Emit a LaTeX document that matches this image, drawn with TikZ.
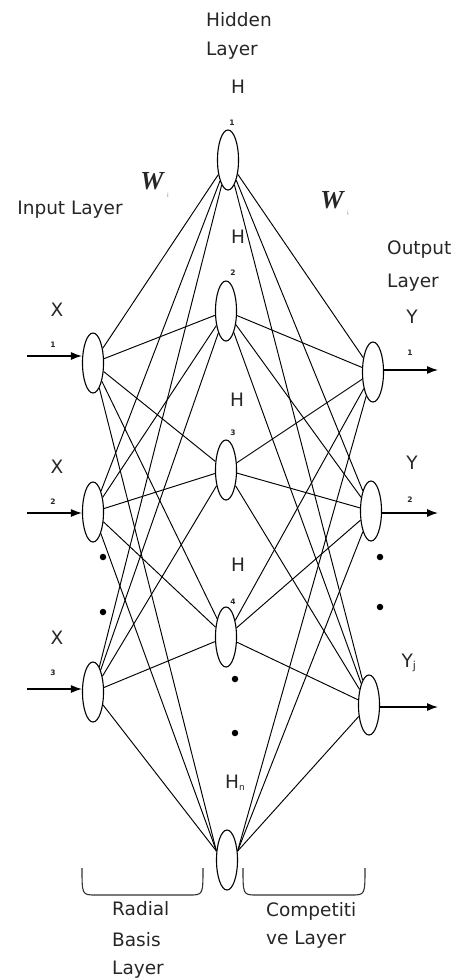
\documentclass[tikz,border=0pt]{standalone}
\usepackage{fontspec}
\setmainfont{DejaVu Sans}
\newfontfamily\wfont{Liberation Serif}
\usetikzlibrary{shapes.geometric,arrows.meta}
\definecolor{txt}{HTML}{262626}
\tikzset{
  neuron/.style={ellipse,draw=black,line width=1.1pt,minimum width=21pt,minimum height=60pt,inner sep=0pt,fill=white},
  link/.style={draw=black,line width=0.95pt},
  lbl/.style={text=txt,font=\fontsize{18.5}{20}\selectfont,inner sep=0pt},
  sub/.style={text=txt,font=\fontsize{7.5}{8}\selectfont\bfseries,inner sep=0pt},
  wlbl/.style={text=black!85,font=\wfont\bfseries\itshape\fontsize{26}{28}\selectfont,inner sep=0pt},
  dotn/.style={circle,fill=black,inner sep=0pt,minimum size=6.5pt},
  io/.style={draw=black,line width=1.2pt,-{Latex[length=11pt,width=8pt]}},
  brace/.style={draw=black!80,line width=1.1pt},
}
\begin{document}
\begin{tikzpicture}[x=1pt,y=-1pt]
\useasboundingbox (0,0) rectangle (458,980);
% nodes
\node[neuron] (X1) at (93,363) {};
\node[neuron] (X2) at (93,512) {};
\node[neuron] (X3) at (93,692) {};
\node[neuron] (H1) at (228,160) {};
\node[neuron] (H2) at (226,311) {};
\node[neuron] (H3) at (226,470) {};
\node[neuron] (H4) at (226,637) {};
\node[neuron] (Hn) at (227,860) {};
\node[neuron] (Y1) at (373,372) {};
\node[neuron] (Y2) at (371,511) {};
\node[neuron] (Yj) at (369,705) {};
% links
\foreach \x in {X1,X2,X3}{
  \foreach \h in {H1,H2,H3,H4}{
    \path[link] (\x) -- (\h);
  }
  \path[link] (\x) -- (Hn.140);
}
\foreach \y in {Y1,Y2,Yj}{
  \foreach \h in {H1,H2,H3,H4}{
    \path[link] (\h) -- (\y);
  }
  \path[link] (Hn.40) -- (\y);
}
% input arrows
\coordinate (a1) at (27,356);
\coordinate (a2) at (27,513);
\coordinate (a3) at (27,689);
\draw[io] (a1) -- (a1 -| X1.west);
\draw[io] (a2) -- (a2 -| X2.west);
\draw[io] (a3) -- (a3 -| X3.west);
% output arrows
\coordinate (b1) at (438,370);
\coordinate (b2) at (438,513);
\coordinate (b3) at (438,707);
\draw[io] (Y1.east |- b1) -- (b1);
\draw[io] (Y2.east |- b2) -- (b2);
\draw[io] (Yj.east |- b3) -- (b3);
% labels
\node[lbl] (tH1) at (239,20) {Hidden};
\node[lbl,anchor=west] (tH2) at (tH1.west |- 0,51) {Layer};
\node[lbl] (h1) at (238,87) {H};
\node[sub] (h1s) at (232,123) {1};
\node[lbl] (h2) at (238,237) {H};
\node[sub] (h2s) at (233,273) {2};
\node[lbl] (h3) at (237,400) {H};
\node[sub] (h3s) at (233,433) {3};
\node[lbl] (h4) at (238,565) {H};
\node[sub] (h4s) at (233,602) {4};
\node[lbl] (hn) at (232,782) {H};
\node[sub,font=\fontsize{9}{10}\selectfont] (hns) at (242,788) {n};
\node[lbl] (inl) at (70,210) {Input Layer};
\node[lbl,anchor=west] (outl1) at (387,250) {Output};
\node[lbl,anchor=west] (outl2) at (387,283) {Layer};
\node[lbl] (x1) at (57,310) {X};
\node[sub] (x1s) at (53,345) {1};
\node[lbl] (x2) at (57,467) {X};
\node[sub] (x2s) at (53,502) {2};
\node[lbl] (x3) at (57,638) {X};
\node[sub] (x3s) at (53,673) {3};
\node[lbl] (y1) at (412,317) {Y};
\node[sub] (y1s) at (410,353) {1};
\node[lbl] (y2) at (412,463) {Y};
\node[sub] (y2s) at (410,500) {2};
\node[lbl] (yj) at (409,663) {Y\textsubscript{\fontsize{11}{11}\selectfont j}};
\node[wlbl] (w1) at (152,181) {W};
\node[sub,font=\fontsize{6}{6}\selectfont,text=black!50] (w1s) at (168,195) {i};
\node[wlbl] (w2) at (332,200) {W};
\node[sub,font=\fontsize{6}{6}\selectfont,text=black!50] (w2s) at (348,213) {i};
% dots
\node[dotn] (d1) at (103,557) {};
\node[dotn] (d2) at (103,612) {};
\node[dotn] (d3) at (380,557) {};
\node[dotn] (d4) at (380,607) {};
\node[dotn] (d5) at (235,679) {};
\node[dotn] (d6) at (235,733) {};
% braces
\draw[brace] (82,868) .. controls (82,895) and (82,895) .. (96,895) -- (189,895) .. controls (203,895) and (203,895) .. (203,868);
\draw[brace] (243,868) .. controls (243,895) and (243,895) .. (257,895) -- (351,895) .. controls (365,895) and (365,895) .. (365,868);
% bottom labels
\node[lbl,anchor=west] (r1) at (112,909) {Radial};
\node[lbl,anchor=west] (r2) at (112,940) {Basis};
\node[lbl,anchor=west] (r3) at (112,970) {Layer};
\node[lbl,anchor=west] (c1) at (266,911) {Competiti};
\node[lbl,anchor=west] (c2) at (266,940) {ve Layer};
\end{tikzpicture}
\end{document}
